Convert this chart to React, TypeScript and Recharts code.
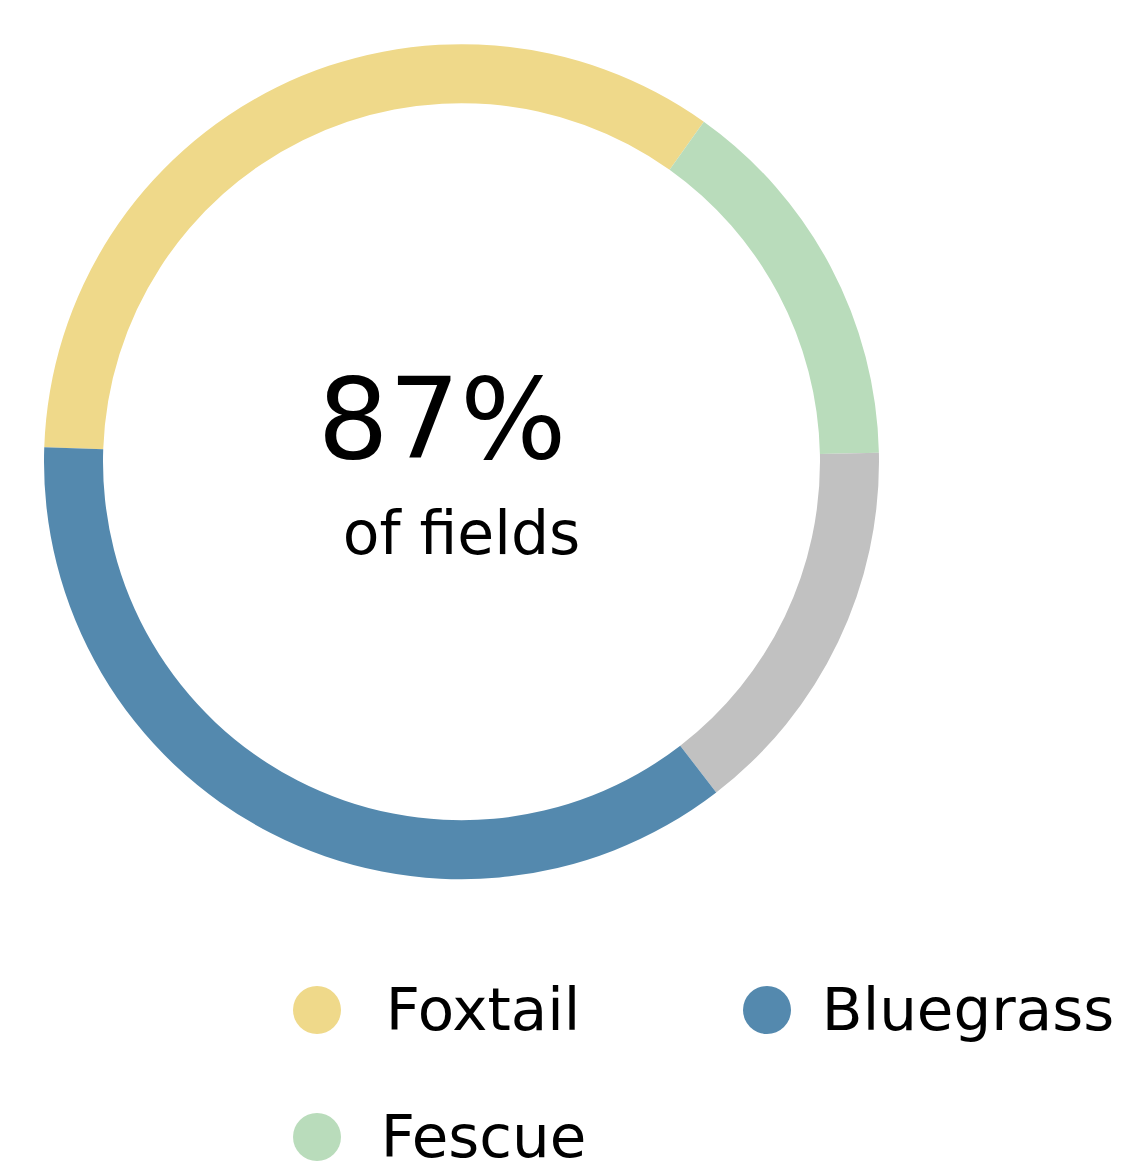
import React from "react";
import { PieChart, Pie, Cell, Label, Legend } from "recharts";

const categories = ["Foxtail", "Fescue", "Other", "Bluegrass"];
const shares = [34.3, 14.8, 14.9, 36.0];
const colors = ["#EFD98A", "#B9DCBB", "#C1C1C1", "#5489AE"];
const legendNames = ["Foxtail", "Bluegrass", "Fescue"];
const centerValue = "87%";
const centerCaption = "of fields";

const data = categories.map((name, i) => ({ name, value: shares[i] }));

const FONT = "'DejaVu Sans', sans-serif";
const PIE_CX = 453.5;
const PIE_CY = 453.7;

const legendSlots = [
  { cx: 309, cy: 72, tx: 475, ty: 92 },
  { cx: 759, cy: 72, tx: 960, ty: 92 },
  { cx: 309, cy: 199, tx: 475.5, ty: 219 },
];

const renderLegend = () => (
  <svg width={1120} height={240} style={{ display: "block" }}>
    {legendNames.map((name, i) => {
      const s = legendSlots[i];
      const color = colors[categories.indexOf(name)];
      return (
        <g key={name}>
          <circle cx={s.cx} cy={s.cy} r={24} fill={color} />
          <text
            x={s.tx}
            y={s.ty}
            textAnchor="middle"
            fontFamily={FONT}
            fontSize={59.5}
            fill="#000"
          >
            {name}
          </text>
        </g>
      );
    })}
  </svg>
);

const renderCenter = () => (
  <g>
    <text
      x={PIE_CX - 19.5}
      y={PIE_CY - 3.7}
      textAnchor="middle"
      fontFamily={FONT}
      fontSize={112}
      fill="#000"
    >
      {centerValue}
    </text>
    <text
      x={PIE_CX}
      y={PIE_CY + 92}
      textAnchor="middle"
      fontFamily={FONT}
      fontSize={60}
      fill="#000"
    >
      {centerCaption}
    </text>
  </g>
);

export default function App() {
  return (
    <div style={{ width: 1120, height: 1166, position: "relative" }}>
      <PieChart width={1120} height={1166} margin={{ top: 0, right: 0, bottom: 0, left: 0 }}>
        <Pie
          data={data}
          dataKey="value"
          nameKey="name"
          cx={PIE_CX}
          cy={PIE_CY}
          innerRadius={358.5}
          outerRadius={417.5}
          startAngle={178}
          endAngle={-182}
          stroke="none"
          isAnimationActive={false}
        >
          {data.map((d, i) => (
            <Cell key={d.name} fill={colors[i]} />
          ))}
          <Label position="center" content={renderCenter} />
        </Pie>
        <Legend
          content={renderLegend}
          wrapperStyle={{ position: "absolute", left: 0, top: 930, width: 1120, height: 240 }}
        />
      </PieChart>
    </div>
  );
}
